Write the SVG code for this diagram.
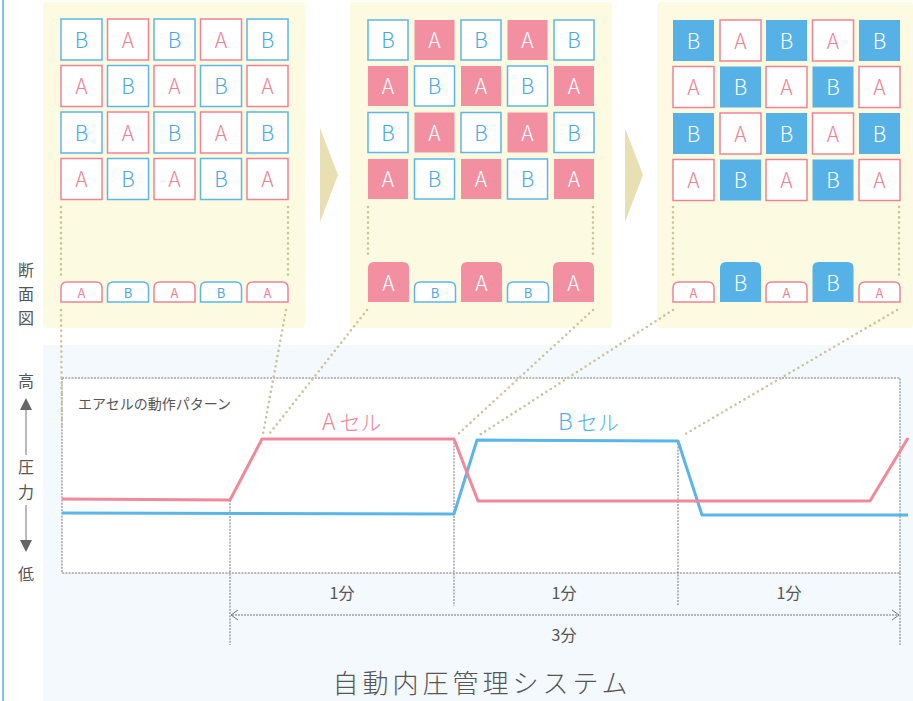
<svg xmlns="http://www.w3.org/2000/svg" width="913" height="701" viewBox="0 0 913 701">
<style>
.t{font-family:"Noto Sans CJK JP","Noto Sans",sans-serif;text-anchor:middle}
.cp{fill:#fff;stroke:#ec8496;stroke-width:1.5}
.cb{fill:#fff;stroke:#5cb6e6;stroke-width:1.5}
.fp{fill:#f290a2}
.fb{fill:#56b2e6}
.tp{fill:#ec8496;font-size:21px;font-weight:300}
.tb{fill:#4aa9df;font-size:21px;font-weight:300}
.tw{fill:#fff;font-size:21px;font-weight:300}
.sp{fill:#ec8496;font-size:13px}
.sb{fill:#4aa9df;font-size:13px}
.dot{fill:none;stroke:#cbc39c;stroke-width:2.6;stroke-linecap:round;stroke-dasharray:0 5.2}
.grid{fill:none;stroke:#777;stroke-width:1;stroke-dasharray:2 1.2}
.lbl{font-family:"Noto Sans CJK JP",sans-serif;fill:#555;font-size:16px;text-anchor:middle}
</style>
<defs>
<path id="sm" d="M0,20 V6 Q0,0 6,0 H35 Q41,0 41,6 V20 Z"/>
<path id="tall" d="M0,40 V6 Q0,0 6,0 H35 Q41,0 41,6 V40 Z"/>
</defs>
<rect width="913" height="701" fill="#fff"/>
<line x1="3" y1="0" x2="3" y2="701" stroke="#7cc4ec" stroke-width="2"/>
<rect x="43" y="345" width="870" height="356" fill="#f3f9fc"/>
<!-- panels -->
<g id="panel1">
<rect x="43" y="2" width="262" height="326" rx="4" fill="#fdfae2"/>
<g class="t">
<rect class="cb" x="61" y="19" width="41" height="41"/><text class="tb" x="81.5" y="47.5">B</text>
<rect class="cp" x="107.5" y="19" width="41" height="41"/><text class="tp" x="128" y="47.5">A</text>
<rect class="cb" x="154" y="19" width="41" height="41"/><text class="tb" x="174.5" y="47.5">B</text>
<rect class="cp" x="200.5" y="19" width="41" height="41"/><text class="tp" x="221" y="47.5">A</text>
<rect class="cb" x="247" y="19" width="41" height="41"/><text class="tb" x="267.5" y="47.5">B</text>
<rect class="cp" x="61" y="65.5" width="41" height="41"/><text class="tp" x="81.5" y="94">A</text>
<rect class="cb" x="107.5" y="65.5" width="41" height="41"/><text class="tb" x="128" y="94">B</text>
<rect class="cp" x="154" y="65.5" width="41" height="41"/><text class="tp" x="174.5" y="94">A</text>
<rect class="cb" x="200.5" y="65.5" width="41" height="41"/><text class="tb" x="221" y="94">B</text>
<rect class="cp" x="247" y="65.5" width="41" height="41"/><text class="tp" x="267.5" y="94">A</text>
<rect class="cb" x="61" y="112" width="41" height="41"/><text class="tb" x="81.5" y="140.5">B</text>
<rect class="cp" x="107.5" y="112" width="41" height="41"/><text class="tp" x="128" y="140.5">A</text>
<rect class="cb" x="154" y="112" width="41" height="41"/><text class="tb" x="174.5" y="140.5">B</text>
<rect class="cp" x="200.5" y="112" width="41" height="41"/><text class="tp" x="221" y="140.5">A</text>
<rect class="cb" x="247" y="112" width="41" height="41"/><text class="tb" x="267.5" y="140.5">B</text>
<rect class="cp" x="61" y="158.5" width="41" height="41"/><text class="tp" x="81.5" y="187">A</text>
<rect class="cb" x="107.5" y="158.5" width="41" height="41"/><text class="tb" x="128" y="187">B</text>
<rect class="cp" x="154" y="158.5" width="41" height="41"/><text class="tp" x="174.5" y="187">A</text>
<rect class="cb" x="200.5" y="158.5" width="41" height="41"/><text class="tb" x="221" y="187">B</text>
<rect class="cp" x="247" y="158.5" width="41" height="41"/><text class="tp" x="267.5" y="187">A</text>
<use href="#sm" class="cp" x="61" y="282"/><text class="sp" x="81.5" y="297.5">A</text>
<use href="#sm" class="cb" x="107.5" y="282"/><text class="sb" x="128" y="297.5">B</text>
<use href="#sm" class="cp" x="154" y="282"/><text class="sp" x="174.5" y="297.5">A</text>
<use href="#sm" class="cb" x="200.5" y="282"/><text class="sb" x="221" y="297.5">B</text>
<use href="#sm" class="cp" x="247" y="282"/><text class="sp" x="267.5" y="297.5">A</text>
</g>
<line class="dot" x1="61" y1="207" x2="61" y2="276"/>
<line class="dot" x1="288" y1="207" x2="288" y2="276"/>
</g>
<g id="arrow1"><polygon points="320,128 338,175 320,222" fill="#e8dfb2"/></g>
<g id="panel2">
<rect x="350" y="2" width="262" height="326" rx="4" fill="#fdfae2"/>
<g class="t">
<rect class="cb" x="368" y="20" width="40" height="40"/><text class="tb" x="388" y="48">B</text>
<rect class="fp" x="414.5" y="20" width="40" height="40"/><text class="tw" x="434.5" y="48">A</text>
<rect class="cb" x="461" y="20" width="40" height="40"/><text class="tb" x="481" y="48">B</text>
<rect class="fp" x="507.5" y="20" width="40" height="40"/><text class="tw" x="527.5" y="48">A</text>
<rect class="cb" x="554" y="20" width="40" height="40"/><text class="tb" x="574" y="48">B</text>
<rect class="fp" x="368" y="66" width="40" height="40"/><text class="tw" x="388" y="94">A</text>
<rect class="cb" x="414.5" y="66" width="40" height="40"/><text class="tb" x="434.5" y="94">B</text>
<rect class="fp" x="461" y="66" width="40" height="40"/><text class="tw" x="481" y="94">A</text>
<rect class="cb" x="507.5" y="66" width="40" height="40"/><text class="tb" x="527.5" y="94">B</text>
<rect class="fp" x="554" y="66" width="40" height="40"/><text class="tw" x="574" y="94">A</text>
<rect class="cb" x="368" y="112.5" width="40" height="40"/><text class="tb" x="388" y="140.5">B</text>
<rect class="fp" x="414.5" y="112.5" width="40" height="40"/><text class="tw" x="434.5" y="140.5">A</text>
<rect class="cb" x="461" y="112.5" width="40" height="40"/><text class="tb" x="481" y="140.5">B</text>
<rect class="fp" x="507.5" y="112.5" width="40" height="40"/><text class="tw" x="527.5" y="140.5">A</text>
<rect class="cb" x="554" y="112.5" width="40" height="40"/><text class="tb" x="574" y="140.5">B</text>
<rect class="fp" x="368" y="159" width="40" height="40"/><text class="tw" x="388" y="187">A</text>
<rect class="cb" x="414.5" y="159" width="40" height="40"/><text class="tb" x="434.5" y="187">B</text>
<rect class="fp" x="461" y="159" width="40" height="40"/><text class="tw" x="481" y="187">A</text>
<rect class="cb" x="507.5" y="159" width="40" height="40"/><text class="tb" x="527.5" y="187">B</text>
<rect class="fp" x="554" y="159" width="40" height="40"/><text class="tw" x="574" y="187">A</text>
<use href="#tall" class="fp" x="368" y="262"/><text class="tw" x="388.5" y="291">A</text>
<use href="#sm" class="cb" x="414.5" y="282"/><text class="sb" x="435" y="297.5">B</text>
<use href="#tall" class="fp" x="461" y="262"/><text class="tw" x="481.5" y="291">A</text>
<use href="#sm" class="cb" x="507.5" y="282"/><text class="sb" x="528" y="297.5">B</text>
<use href="#tall" class="fp" x="553" y="262"/><text class="tw" x="573.5" y="291">A</text>
</g>
<line class="dot" x1="368" y1="207" x2="368" y2="258"/>
<line class="dot" x1="593" y1="207" x2="593" y2="258"/>
</g>
<g id="arrow2"><polygon points="625,128 643,175 625,222" fill="#e8dfb2"/></g>
<g id="panel3">
<rect x="657" y="2" width="256" height="326" rx="4" fill="#fdfae2"/>
<g class="t">
<rect class="fb" x="673" y="20" width="41" height="41"/><text class="tw" x="693.5" y="48.5">B</text>
<rect class="cp" x="720" y="20" width="41" height="41"/><text class="tp" x="740.5" y="48.5">A</text>
<rect class="fb" x="766" y="20" width="41" height="41"/><text class="tw" x="786.5" y="48.5">B</text>
<rect class="cp" x="812.5" y="20" width="41" height="41"/><text class="tp" x="833" y="48.5">A</text>
<rect class="fb" x="859" y="20" width="41" height="41"/><text class="tw" x="879.5" y="48.5">B</text>
<rect class="cp" x="673" y="66.5" width="41" height="41"/><text class="tp" x="693.5" y="95">A</text>
<rect class="fb" x="720" y="66.5" width="41" height="41"/><text class="tw" x="740.5" y="95">B</text>
<rect class="cp" x="766" y="66.5" width="41" height="41"/><text class="tp" x="786.5" y="95">A</text>
<rect class="fb" x="812.5" y="66.5" width="41" height="41"/><text class="tw" x="833" y="95">B</text>
<rect class="cp" x="859" y="66.5" width="41" height="41"/><text class="tp" x="879.5" y="95">A</text>
<rect class="fb" x="673" y="113" width="41" height="41"/><text class="tw" x="693.5" y="141.5">B</text>
<rect class="cp" x="720" y="113" width="41" height="41"/><text class="tp" x="740.5" y="141.5">A</text>
<rect class="fb" x="766" y="113" width="41" height="41"/><text class="tw" x="786.5" y="141.5">B</text>
<rect class="cp" x="812.5" y="113" width="41" height="41"/><text class="tp" x="833" y="141.5">A</text>
<rect class="fb" x="859" y="113" width="41" height="41"/><text class="tw" x="879.5" y="141.5">B</text>
<rect class="cp" x="673" y="159.5" width="41" height="41"/><text class="tp" x="693.5" y="188">A</text>
<rect class="fb" x="720" y="159.5" width="41" height="41"/><text class="tw" x="740.5" y="188">B</text>
<rect class="cp" x="766" y="159.5" width="41" height="41"/><text class="tp" x="786.5" y="188">A</text>
<rect class="fb" x="812.5" y="159.5" width="41" height="41"/><text class="tw" x="833" y="188">B</text>
<rect class="cp" x="859" y="159.5" width="41" height="41"/><text class="tp" x="879.5" y="188">A</text>
<use href="#sm" class="cp" x="673" y="282"/><text class="sp" x="693.5" y="297.5">A</text>
<use href="#tall" class="fb" x="720" y="262"/><text class="tw" x="740.5" y="291">B</text>
<use href="#sm" class="cp" x="766" y="282"/><text class="sp" x="786.5" y="297.5">A</text>
<use href="#tall" class="fb" x="812.5" y="262"/><text class="tw" x="833" y="291">B</text>
<use href="#sm" class="cp" x="859" y="282"/><text class="sp" x="879.5" y="297.5">A</text>
</g>
<line class="dot" x1="673" y1="207" x2="673" y2="276"/>
<line class="dot" x1="899" y1="207" x2="899" y2="276"/>
</g>
<!-- side labels -->
<g id="labels">
<text class="lbl" x="26" y="276">断</text>
<text class="lbl" x="26" y="300">面</text>
<text class="lbl" x="26" y="324">図</text>
<text class="lbl" x="26" y="387">高</text>
<polygon points="26,398 32,410 20,410" fill="#666"/>
<line x1="26" y1="410" x2="26" y2="455" stroke="#777" stroke-width="1"/>
<text class="lbl" x="26" y="473">圧</text>
<text class="lbl" x="26" y="498">力</text>
<line x1="26" y1="505" x2="26" y2="541" stroke="#777" stroke-width="1"/>
<polygon points="26,552 32,540 20,540" fill="#666"/>
<text class="lbl" x="26" y="580">低</text>
</g>
<!-- chart -->
<g id="chart">
<rect x="62" y="378" width="838" height="195" fill="#fff"/>
<rect class="grid" x="62" y="378" width="838" height="195"/>
<line class="grid" x1="230" y1="500" x2="230" y2="645"/>
<line class="grid" x1="454" y1="439" x2="454" y2="606"/>
<line class="grid" x1="678" y1="440" x2="678" y2="606"/>
<line class="grid" x1="900" y1="573" x2="900" y2="645"/>
<text style="font-family:'Noto Sans CJK JP',sans-serif;font-size:14px;fill:#555" x="78" y="409">エアセルの動作パターン</text>
<text style="font-family:'Noto Sans CJK JP',sans-serif;font-size:23px;fill:#ef8597;font-weight:300" x="322" y="430">A<tspan dx="4" font-size="21">セル</tspan></text>
<text style="font-family:'Noto Sans CJK JP',sans-serif;font-size:23px;fill:#57b2e4;font-weight:300" x="558" y="430">B<tspan dx="4" font-size="21">セル</tspan></text>
</g>
<g id="connectors">
<line class="dot" x1="61" y1="310" x2="62" y2="428"/>
<line class="dot" x1="286" y1="310" x2="263" y2="434"/>
<line class="dot" x1="367" y1="310" x2="270" y2="433"/>
<line class="dot" x1="593" y1="310" x2="456" y2="436"/>
<line class="dot" x1="673" y1="310" x2="478" y2="436"/>
<line class="dot" x1="897" y1="310" x2="682" y2="436"/>
<polyline points="62,513 454,514 477,440 678,441 702,515 908,515" fill="none" stroke="#5bb5e6" stroke-width="3" stroke-linejoin="round"/>
<polyline points="62,499 230,500 262,439 454,439 478,501 870,501 908,438" fill="none" stroke="#f08a9b" stroke-width="3" stroke-linejoin="round"/>
</g>
<g id="dims">
<line x1="232" y1="615" x2="898" y2="615" stroke="#777" stroke-width="1.2" stroke-dasharray="2 1"/>
<polyline points="238,610 231,615 238,620" fill="none" stroke="#777" stroke-width="1"/>
<polyline points="892,610 899,615 892,620" fill="none" stroke="#777" stroke-width="1"/>
<g style="font-family:'Noto Sans CJK JP',sans-serif;font-size:16px;fill:#555;text-anchor:middle">
<text x="342" y="599">1分</text>
<text x="564" y="599">1分</text>
<text x="789" y="599">1分</text>
<text x="564" y="641">3分</text>
</g>
<text style="font-family:'Noto Sans CJK JP',sans-serif;font-size:26px;fill:#555;font-weight:300;text-anchor:middle;letter-spacing:4px" x="482" y="693">自動内圧管理システム</text>
</g>
</svg>
